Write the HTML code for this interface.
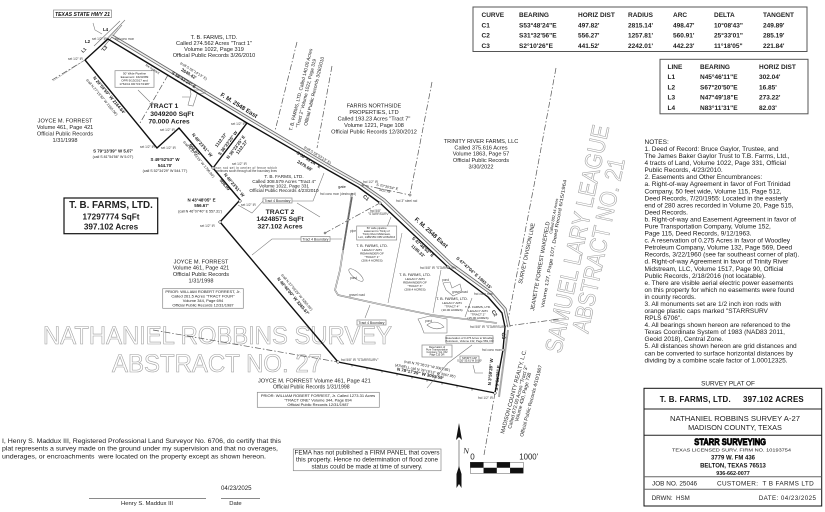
<!DOCTYPE html>
<html><head><meta charset="utf-8"><style>
html,body{margin:0;padding:0;background:#fff;width:825px;height:512px;overflow:hidden}
svg{display:block;filter:blur(.3px)}
text{font-family:"Liberation Sans",sans-serif;fill:#222}
.c{text-anchor:middle}.b{font-weight:bold;fill:#111}
.s6{font-size:5.6px}.s5{font-size:4.7px}.s4{font-size:4px}.s3{font-size:3.2px;fill:#444}
.t{font-size:6.5px;font-weight:bold;fill:#222}
.n{font-size:6.53px;fill:#1a1a1a}
.g{font-family:"Liberation Sans",sans-serif;fill:#fff;stroke:#a0a0a0;stroke-width:.6px}
.d{fill:none;stroke:#555;stroke-width:.7;stroke-dasharray:6 2 1.5 2}
.l{fill:none;stroke:#777;stroke-width:.55}
.box{fill:#fff;stroke:#888;stroke-width:.7}
</style></head><body>
<svg width="825" height="512" viewBox="0 0 825 512" xmlns="http://www.w3.org/2000/svg">
<!-- ghost text -->
<text class="g" x="43" y="344" font-size="25" textLength="349" lengthAdjust="spacingAndGlyphs">NATHANIEL ROBBINS SURVEY</text>
<text class="g" x="112" y="372" font-size="25" textLength="210" lengthAdjust="spacingAndGlyphs">ABSTRACT NO. 27</text>
<text class="g" transform="translate(561,354) rotate(-78)" font-size="24" textLength="232" lengthAdjust="spacingAndGlyphs">SAMUEL LARY LEAGUE</text>
<text class="g" transform="translate(588,334) rotate(-78)" font-size="24" textLength="178" lengthAdjust="spacingAndGlyphs">ABSTRACT NO. 21</text>

<!-- dashed lines -->
<path class="d" d="M297 42L275 131M332 66L317 148M432 82L410 195M556 68L537 170L508 320M507 326L560 319M495 393L484 455M168 75L140 123M153 330L338 362M52 80L85 60M363 185L410 195M325 233L380 203"/>
<!-- highway -->
<path d="M98 48L125 20M101 50L122 25M94 46L120 21" fill="none" stroke="#777" stroke-width=".6"/>
<path d="M53 81L85 60L108 39L118 28" fill="none" stroke="#999" stroke-width=".5"/>

<!-- road -->
<path d="M112 36L250 119L331 167L361 184L384 200L451 264L491 293L505 309L509 327" fill="none" stroke="#666" stroke-width="3.2"/>
<path d="M112 36L250 119L331 167L361 184L384 200L451 264L491 293L505 309L509 327" fill="none" stroke="#eee" stroke-width="1.6"/>
<path d="M508 330L499 397" fill="none" stroke="#aaa" stroke-width="2"/>
<!-- internal fences -->
<path d="M352 193L340 270L335 290L338 295L388 306L432 315L497 323" fill="none" stroke="#777" stroke-width="1.6"/>
<path d="M352 193L340 270L335 290L338 295L388 306L432 315L497 323" fill="none" stroke="#fff" stroke-width=".6"/>
<path d="M352 197L343 250" stroke="#666" stroke-width="1.5"/>
<path class="l" d="M402 233L388 303M441 270L433 313M472 298L465 317"/>
<ellipse cx="356" cy="275" rx="9" ry="3.2" transform="rotate(40 356 275)" fill="#fff" stroke="#666" stroke-width=".5"/>
<path class="l" d="M443 283L450 282L452 288L460 284L462 292L453 296L446 290Z"/>
<path class="l" d="M418 319L430 316L447 319L447 333L424 333L421 325Z M427 325C433 320 440 322 444 327C438 330 432 329 427 325Z"/>
<path class="l" d="M190 90L205 90L205 93L197 94L193 106L188 105L191 94Z M182 97L190 97"/>

<!-- boundary -->
<path d="M85 60L108 39L247 123L328 170L358 187L380 203L448 267L488 297L502 313L505 327L503 350L495 393L338 362L220 222L240 200L213 168L179 128L157 148L85 60" fill="none" stroke="#111" stroke-width="1.4" stroke-linejoin="round"/>
<path d="M247 123L213 168" fill="none" stroke="#111" stroke-width="1.4"/>
<g fill="#fff" stroke="#222" stroke-width=".5">
<circle cx="220" cy="222" r="1.3"/><circle cx="240" cy="201" r="1.3"/><circle cx="213" cy="168" r="1.2"/><circle cx="338" cy="362" r="1.3"/><circle cx="495" cy="393" r="1.3"/><circle cx="503" cy="350" r="1.2"/><circle cx="380" cy="203" r="1.2"/><circle cx="448" cy="267" r="1.2"/><circle cx="363" cy="185" r="1"/><circle cx="410" cy="195" r="1.1"/><circle cx="325" cy="233" r="1"/><circle cx="348" cy="220" r="1.1"/></g>
<path d="M352 365v1.6M367 368v1.6M382 371v1.6M397 374v1.6M412 377v1.6M427 380v1.6M442 383v1.6M457 386v1.6M472 389v1.6" stroke="#333" stroke-width=".6"/>

<!-- leaders -->
<path class="l" d="M93 23L95 30L102 34M138 90L150 102M263 201L252 213L238 205M292 201L313 201L324 173M297 203L320 217M302 239L272 239L252 255M330 239L342 239M365 318L370 305M472 345L448 363L427 388M473 365L475 373L483 373M387 227L391 217"/>

<!-- top-left -->
<rect x="53.5" y="10" width="58" height="7.6" class="box" stroke="#444"/>
<text x="55" y="16" font-size="5" class="b" font-style="italic" textLength="55" lengthAdjust="spacingAndGlyphs">TEXAS STATE HWY 21</text>
<text x="103" y="31" font-size="4.4" class="b">L4</text><text x="85" y="43" font-size="4.4" class="b">L2</text>
<text transform="translate(83,53) rotate(-45)" font-size="4.4" class="b">L1</text><text transform="translate(104,51) rotate(-45)" font-size="4.4" class="b">L3</text>
<g class="s3"><text class="s3" x="92" y="40">set 1/2" IR</text><text class="s3" x="115" y="40">fnd conc mon</text><text class="s3" x="68" y="60">set 1/2" IR</text><text class="s3" x="140" y="148">set 1/2" IR</text><text class="s3" x="160" y="131">set 1/2" IR</text><text class="s3" x="161" y="149">set 1/2" IR</text><text class="s3" x="231" y="125">set 1/2" IR</text><text class="s3" x="200" y="227" >set 1/2" IR</text><text class="s3" x="241" y="206">set 1/2" IR</text><text class="s3" x="232" y="165">set 1/2" IR</text><text class="s3" x="215" y="169" textLength="62">iron rod set in center of fence which</text><text class="s3" x="215" y="172" textLength="62">continues south through all the boundary lines</text><text class="s3" x="363" y="183">fnd 1/2" IR</text><text class="s3" x="320" y="195">fnd conc mon (destroyed)</text><text class="s3" x="396" y="202">fnd 3" steel rod</text><text class="s3" x="370" y="212">fnd 5/8"</text><text class="s3" x="368" y="215">"STARRSURV"</text><text class="s3" x="420" y="269">fnd 5/8" IR "STARRSURV"</text><text class="s3" x="474" y="295">fnd conc mon</text><text class="s3" x="470" y="328">fnd 5/8" IR "STARRSURV"</text><text class="s3" x="482" y="351">fnd conc mon</text><text class="s3" x="478" y="399">fnd 1/2" IR</text><text class="s3" x="341" y="361">fnd 5/8" IR "STARRSURV"</text><text class="s3" x="350" y="232">pipe</text><text class="s3" x="350" y="279">pond</text><text class="s3" x="442" y="281">pond</text><text class="s3" x="425" y="322">pond</text><text class="s3" x="452" y="293">gravel road</text><text class="s3" x="349" y="296">gravel road</text></g>

<g class="c s6">
<text class="s6" x="214" y="39">T. B. FARMS, LTD.</text><text class="s6" x="214" y="45">Called 274.562 Acres  "Tract 1"</text><text class="s6" x="214" y="51">Volume 1022, Page 319</text><text class="s6" x="214" y="57">Official Public Records  3/26/2010</text>
<text class="s6" x="65" y="122.5">JOYCE M. FORREST</text><text class="s6" x="65" y="129">Volume 461, Page 421</text><text class="s6" x="65" y="135.5">Official Public Records</text><text class="s6" x="65" y="142">1/31/1998</text>
<text class="s6" x="374" y="107.5">FARRIS NORTHSIDE</text><text class="s6" x="374" y="114">PROPERTIES, LTD</text><text class="s6" x="374" y="120.5">Called 193.23 Acres  "Tract 7"</text><text class="s6" x="374" y="127">Volume 1221, Page 108</text><text class="s6" x="374" y="133.5">Official Public Records 12/30/2012</text>
<text class="s6" x="481" y="143">TRINITY RIVER FARMS, LLC</text><text class="s6" x="481" y="149.5">Called 375.616 Acres</text><text class="s6" x="481" y="155.5">Volume 1863, Page 57</text><text class="s6" x="481" y="162">Official Public Records</text><text class="s6" x="481" y="168.5">3/30/2022</text>
<text class="s6" x="201" y="263.5">JOYCE M. FORREST</text><text class="s6" x="201" y="269.5">Volume 461, Page 421</text><text class="s6" x="201" y="276">Official Public Records</text><text class="s6" x="201" y="282.5">1/31/1998</text>
</g>
<g text-anchor="middle">
<text class="s5" x="284" y="178">T. B. FARMS, LTD.</text><text class="s5" x="284" y="183">Called 308.579 Acres "Tract 4"</text><text class="s5" x="284" y="187.5">Volume 1022, Page 331</text><text class="s5" x="284" y="192">Official Public Records 4/23/2010</text>
</g>

<!-- tract labels -->
<g class="c b" font-size="6.8">
<text x="164" y="108">TRACT 1</text><text x="172" y="116">3049200 SqFt</text><text x="169" y="123.5">70.000 Acres</text>
<text x="280" y="214">TRACT 2</text><text x="280" y="221">14248575 SqFt</text><text x="280" y="228.5">327.102 Acres</text>
</g>
<rect x="64" y="198" width="93.7" height="35.7" fill="#fff" stroke="#111" stroke-width="1.2"/>
<g class="c b"><text x="111" y="208" font-size="9.8">T. B. FARMS, LTD.</text><text x="111" y="219.5" font-size="8.2">17297774 SqFt</text><text x="111" y="229.5" font-size="8.2">397.102 Acres</text></g>

<!-- pipeline box -->
<rect class="box" x="115" y="70.7" width="39" height="16.6"/>
<g class="c" font-size="3"><text x="134.5" y="74.5">50' Wide Pipeline</text><text x="134.5" y="78">Easement: 1623/289</text><text x="134.5" y="81.5">OPR 9/13/2017 and</text><text x="134.5" y="85">1764/41 DR 5/17/1987</text></g>

<!-- bearing labels -->
<g class="c b" font-size="4.4">
<text transform="translate(183,81) rotate(32)">S 58°53'24" E</text><text transform="translate(188,75) rotate(32)">2640.42'</text>
<text transform="translate(108,96) rotate(50)">N 29°59'59" W  2164.64'</text>
<text x="113" y="152.5">S 79°13'39" W 5.07'</text><text x="165" y="161">S 49°52'53" W</text><text x="165" y="167">544.70'</text>
<text transform="translate(201,146) rotate(50)">N 40°23'51" W</text><text transform="translate(193,151) rotate(50)">908.07'</text>
<text transform="translate(222,141) rotate(-53)">1112.37'</text><text transform="translate(229,144) rotate(-53)">S 36°23'25" W</text><text transform="translate(237,148) rotate(-53)">N 36°23'25" E</text><text transform="translate(243,148) rotate(-53)">1112.27'</text>
<text transform="translate(233,186) rotate(50)">N 40°23'51" W</text><text transform="translate(224,186) rotate(50)">908.09'</text>
<text x="201.5" y="201.5">N 43°48'05" E</text><text x="201.5" y="207">556.67'</text>
<text transform="translate(292,297) rotate(50)">N 40°40'00" W  3265.67'</text>
<text transform="translate(308,161) rotate(32)">S 58°53'24" E</text><text transform="translate(304,167) rotate(32)">2479.68'</text>
<text transform="translate(422,248) rotate(42)">S 47°46'03" E</text><text transform="translate(417,252) rotate(42)">1190.33'</text>
<text transform="translate(473,274) rotate(42)">S 47°47'04" E 1993.15'</text>
<text transform="translate(420,375) rotate(11)">N 78°17'29" W    3065.59'</text>
<text transform="translate(492,372) rotate(-85)">N 3°59'28" W</text><text transform="translate(499,378) rotate(-85)">S 3°59'28" E</text>
</g>
<g class="c" font-size="3.6" fill="#333">
<text transform="translate(193,72) rotate(32)">(call S 56°14'13" E)</text><text transform="translate(101,98) rotate(50)">(call N 27°19'30" W 2165.06')</text>
<text x="113" y="158">(call S 81°54'56" W 5.07')</text><text x="165" y="172">(call S 52°34'29" W 544.77')</text>
<text transform="translate(198,160) rotate(50)">(call N 37°43'15" W 1796.80')</text>
<text x="200" y="212.5">(call N 46°07'40" E 557.31')</text><text transform="translate(296,293) rotate(50)">(call N 37°59'29" W 3265.95')</text>
<text transform="translate(317,156) rotate(32)">(call S 58°53'13" E)</text>
<text transform="translate(425,372) rotate(11)">(ATWELL call N 78°18'13" W 3067.95')</text><text transform="translate(427,367) rotate(11)">(call N 75°35'23" W 3067.85')</text>
<text transform="translate(387,188) rotate(12)">S 70°30'54" E</text><text transform="translate(385,192) rotate(12)">802.78'</text>
</g>
<g class="c b" font-size="6">
<text transform="translate(238,107) rotate(32)">F. M. 2548 East</text><text transform="translate(430,234) rotate(42)">F. M. 2548 East</text>
</g>
<g class="c b" font-size="5">
<text transform="translate(365,199) rotate(42)">C1</text><text transform="translate(493,314) rotate(60)">C2</text><text transform="translate(502,336) rotate(85)">C3</text>
</g>
<text class="s4" x="342" y="188" text-anchor="middle">gate</text>
<text x="152" y="70" font-size="3.2" transform="rotate(32 152 70)" text-anchor="middle" fill="#444">fire hydrant</text>

<!-- boundary tags -->
<rect class="box" x="263" y="198" width="29" height="5"/><text class="c" x="277.5" y="202" font-size="3.4">Tract 4 Boundary</text>
<rect class="box" x="301" y="236.5" width="29" height="5"/><text class="c" x="315.5" y="240.5" font-size="3.4">Tract 4 Boundary</text>
<rect class="box" x="357" y="320" width="29" height="5"/><text class="c" x="371.5" y="324" font-size="3.4">Tract 4 Boundary</text>

<!-- small boxes -->
<rect class="box" x="356.7" y="226" width="40" height="14"/>
<g class="c" font-size="2.7"><text x="376.7" y="229">50' wide pipeline</text><text x="376.7" y="232">easement to Trinity of</text><text x="376.7" y="235">Trinity River Midstream,</text><text x="376.7" y="238">LLC, 1488/159 OPR 2/26/2016</text></g>
<rect class="box" x="446" y="335.7" width="47" height="7.5"/>
<g class="c" font-size="2.8"><text x="469.5" y="339">Reservation of 0.275 Acres to Woodley</text><text x="469.5" y="342">Petroleum, Volume 132, Page 569, DR</text></g>
<rect class="box" x="422" y="345" width="30" height="12"/>
<g class="c" font-size="2.5"><text x="437" y="348">Reservation of</text><text x="437" y="350.5">Pure Transportation</text><text x="437" y="353">Company, Vol. 152</text><text x="437" y="355.5">Page 115 DR</text></g>
<rect class="box" x="460" y="356" width="19" height="6.7"/>
<g class="c" font-size="2.6"><text x="469.5" y="359">SPORT CAP</text><text x="469.5" y="361.5">S. 10' 55.61 W 50.00'</text></g>

<!-- tract-internal labels -->
<g class="c" font-size="3.1" fill="#333">
<text x="372" y="247" font-size="3.8">T. B. FARMS, LTD.</text><text x="372" y="251">LEGACY APN</text><text x="372" y="254.5">REMAINDER OF</text><text x="372" y="258">"TRACT 1"</text><text x="372" y="261.5">(206.4 ACRES)</text>
<text x="415" y="276" font-size="3.8">T. B. FARMS, LTD.</text><text x="415" y="280">LEGACY APN</text><text x="415" y="283.5">REMAINDER OF</text><text x="415" y="287">"TRACT 3"</text><text x="415" y="290.5">(208.4 ACRES)</text>
<text x="452" y="300" font-size="3.8">T. B. FARMS, LTD.</text><text x="452" y="304">LEGACY APN</text><text x="452" y="307.5">"TRACT 4"</text><text x="452" y="311">(10.00 ACRES)</text>
<text x="478" y="308">T. B. FARMS, LTD.</text><text x="478" y="312">LEGACY APN</text><text x="478" y="315.5">"TRACT 2"</text><text x="478" y="319">(15.00 ACRES)</text>
</g>

<!-- rotated owners -->
<g font-size="4.8" fill="#222">
<text transform="translate(292,131) rotate(-76)">T. B. FARMS, LTD.   Called 140.00 Acres</text>
<text transform="translate(299,128) rotate(-76)">"Tract 2"  Volume 1022, Page 319</text>
<text transform="translate(307,126) rotate(-76)">Official Public Records  3/26/2010</text>
</g>
<text transform="translate(522,284) rotate(-78)" font-size="5.6" textLength="62" lengthAdjust="spacingAndGlyphs">SURVEY DIVISION LINE</text>
<text transform="translate(534,311) rotate(-80)" font-size="5.6">JEANETTE FORREST WAKEFIELD</text>
<text transform="translate(552,234) rotate(-80)" font-size="4">Called 802.44 Acres</text>
<text transform="translate(544,308) rotate(-80)" font-size="4.7" textLength="130" lengthAdjust="spacingAndGlyphs">Volume 137, Page 107, Deed Record 6/15/1964</text>
<g font-size="5" fill="#222">
<text transform="translate(504,434) rotate(-75)" font-size="5.6">MADISON COUNTY REALTY, L.C.</text>
<text transform="translate(511,429) rotate(-75)">Called 672.00 Acres  "Tract 3"</text>
<text transform="translate(518,422) rotate(-75)">Volume 430, Page 738</text>
<text transform="translate(523,437) rotate(-75)">Official Public Records  4/10/1967</text>
</g>

<!-- lower prior boxes -->
<rect class="box" x="162.7" y="288.7" width="80.6" height="19.6"/>
<g class="c" font-size="4"><text x="203" y="292.8">PRIOR: WILLIAM ROBERT FORREST, Jr.</text><text x="203" y="297.5">Called 261.5 Acres "TRACT FOUR"</text><text x="203" y="302">Volume 344, Page 694</text><text x="203" y="306.5">Official Public Records  12/31/1987</text></g>
<text x="258" y="382.5" font-size="5.6">JOYCE M. FORREST  Volume 461, Page 421</text>
<text x="273" y="388.5" font-size="5.2">Official Public Records  1/31/1998</text>
<rect class="box" x="257.3" y="392.3" width="122" height="15"/>
<g class="c" font-size="4"><text x="318" y="397.2">PRIOR: WILLIAM ROBERT FORREST, Jr. Called 1273.31 Acres</text><text x="318" y="401.6">"TRACT ONE" Volume 344, Page 694</text><text x="318" y="405.8">Official Public Records  12/31/1987</text></g>

<!-- tables -->
<rect x="473" y="7" width="334" height="44.5" fill="#fff" stroke="#555" stroke-width="1"/>
<g class="t">
<text class="t" x="481.5" y="17">CURVE</text><text class="t" x="519" y="17">BEARING</text><text class="t" x="578" y="17">HORIZ DIST</text><text class="t" x="628" y="17">RADIUS</text><text class="t" x="673" y="17">ARC</text><text class="t" x="714" y="17">DELTA</text><text class="t" x="763" y="17">TANGENT</text>
<text class="t" x="481.5" y="27.3">C1</text><text class="t" x="519" y="27.3">S53°48'24"E</text><text class="t" x="578" y="27.3">497.82'</text><text class="t" x="628" y="27.3">2815.14'</text><text class="t" x="673" y="27.3">498.47'</text><text class="t" x="714" y="27.3">10°08'43"</text><text class="t" x="763" y="27.3">249.89'</text>
<text class="t" x="481.5" y="37.6">C2</text><text class="t" x="519" y="37.6">S31°32'56"E</text><text class="t" x="578" y="37.6">556.27'</text><text class="t" x="628" y="37.6">1257.81'</text><text class="t" x="673" y="37.6">560.91'</text><text class="t" x="714" y="37.6">25°33'01"</text><text class="t" x="763" y="37.6">285.19'</text>
<text class="t" x="481.5" y="47.8">C3</text><text class="t" x="519" y="47.8">S2°10'26"E</text><text class="t" x="578" y="47.8">441.52'</text><text class="t" x="628" y="47.8">2242.01'</text><text class="t" x="673" y="47.8">442.23'</text><text class="t" x="714" y="47.8">11°18'05"</text><text class="t" x="763" y="47.8">221.84'</text>
</g>
<rect x="660" y="59.3" width="148" height="54.5" fill="#fff" stroke="#555" stroke-width="1"/>
<g>
<text class="t" x="667.5" y="69">LINE</text><text class="t" x="700" y="69">BEARING</text><text class="t" x="759" y="69">HORIZ DIST</text>
<text class="t" x="667.5" y="79">L1</text><text class="t" x="700" y="79">N45°46'11"E</text><text class="t" x="759" y="79">302.04'</text>
<text class="t" x="667.5" y="89.3">L2</text><text class="t" x="700" y="89.3">S67°20'50"E</text><text class="t" x="759" y="89.3">16.85'</text>
<text class="t" x="667.5" y="99.5">L3</text><text class="t" x="700" y="99.5">N47°49'18"E</text><text class="t" x="759" y="99.5">273.22'</text>
<text class="t" x="667.5" y="109.8">L4</text><text class="t" x="700" y="109.8">N83°11'31"E</text><text class="t" x="759" y="109.8">82.03'</text>
</g>

<!-- notes -->
<g>
<text class="n" x="644.5" y="144">NOTES:</text>
<text class="n" x="644.5" y="151">1.  Deed of Record:  Bruce Gaylor, Trustee, and</text>
<text class="n" x="644.5" y="158">The James Baker Gaylor Trust to T.B. Farms, Ltd.,</text>
<text class="n" x="644.5" y="165.1">4 tracts of Land, Volume 1022, Page 331, Official</text>
<text class="n" x="644.5" y="172.1">Public Records, 4/23/2010.</text>
<text class="n" x="644.5" y="179.2">2.  Easements and Other Encumbrances:</text>
<text class="n" x="644.5" y="186.2">a.  Right-of-way Agreement in favor of Fort Trinidad</text>
<text class="n" x="644.5" y="193.3">Company, 50 feet wide, Volume 115, Page 512,</text>
<text class="n" x="644.5" y="200.3">Deed Records, 7/20/1955:  Located in the easterly</text>
<text class="n" x="644.5" y="207.4">end of 280 acres recorded in Volume 20, Page 515,</text>
<text class="n" x="644.5" y="214.4">Deed Records.</text>
<text class="n" x="644.5" y="221.4">b.  Right-of-way and Easement Agreement in favor of</text>
<text class="n" x="644.5" y="228.5">Pure Transportation Company, Volume 152,</text>
<text class="n" x="644.5" y="235.5">Page 115, Deed Records, 9/12/1963.</text>
<text class="n" x="644.5" y="242.6">c.  A reservation of 0.275 Acres in favor of Woodley</text>
<text class="n" x="644.5" y="249.6">Petroleum Company, Volume 132, Page 569, Deed</text>
<text class="n" x="644.5" y="256.7">Records, 3/22/1960 (see far southeast corner of plat).</text>
<text class="n" x="644.5" y="263.7">d.  Right-of-way Agreement in favor of Trinity River</text>
<text class="n" x="644.5" y="270.8">Midstream, LLC, Volume 1517, Page 90, Official</text>
<text class="n" x="644.5" y="277.8">Public Records, 2/18/2016 (not locatable).</text>
<text class="n" x="644.5" y="284.8">e.  There are visible aerial electric power easements</text>
<text class="n" x="644.5" y="291.9">on this property for which no easements were found</text>
<text class="n" x="644.5" y="298.9">in county records.</text>
<text class="n" x="644.5" y="306">3.  All monuments set are 1/2 inch iron rods with</text>
<text class="n" x="644.5" y="313">orange plastic caps marked "STARRSURV</text>
<text class="n" x="644.5" y="320.1">RPLS 6706".</text>
<text class="n" x="644.5" y="327.1">4.  All bearings shown hereon are referenced to the</text>
<text class="n" x="644.5" y="334.2">Texas Coordinate System of 1983 (NAD83 2011,</text>
<text class="n" x="644.5" y="341.2">Geoid 2018), Central Zone.</text>
<text class="n" x="644.5" y="348.2">5.  All distances shown hereon are grid distances and</text>
<text class="n" x="644.5" y="355.3">can be converted to surface horizontal distances by</text>
<text class="n" x="644.5" y="362.3">dividing by a combine scale factor of 1.00012325.</text>
</g>

<!-- title block -->
<text class="c" x="728" y="385.5" font-size="6.4">SURVEY PLAT OF</text>
<rect x="644" y="388.3" width="177.7" height="117.7" fill="#fff" stroke="#111" stroke-width="1"/>
<path d="M644 409H821.7M644 435.3H821.7" stroke="#222" stroke-width="1"/>
<path d="M644 476.7H821.7M644 489.3H821.7" stroke="#666" stroke-width="1"/>
<text x="659.7" y="402" class="b" font-size="7.9" textLength="144" xml:space="preserve">T. B. FARMS, LTD.     397.102 ACRES</text>
<text class="c" x="735" y="421" font-size="7.3" textLength="130" lengthAdjust="spacingAndGlyphs">NATHANIEL ROBBINS SURVEY A-27</text>
<text class="c" x="735" y="429.8" font-size="7.3">MADISON COUNTY, TEXAS</text>
<text x="694.3" y="445" font-size="9.5" class="b" stroke="#000" stroke-width=".8" textLength="71.7" lengthAdjust="spacingAndGlyphs">STARR SURVEYING</text>
<text x="672" y="451.5" font-size="4.7" textLength="119" lengthAdjust="spacingAndGlyphs">TEXAS LICENSED SURV. FIRM NO. 10193754</text>
<text class="c b" x="733" y="459.5" font-size="6">3779 W. FM 436</text>
<text class="c b" x="733" y="467.5" font-size="6">BELTON, TEXAS 76513</text>
<text class="c b" x="733" y="475.2" font-size="5.4">936-662-0077</text>
<text x="652" y="485.7" font-size="6.4">JOB NO. 25046</text>
<text x="717" y="485.7" font-size="6.4" textLength="96.7" xml:space="preserve">CUSTOMER:  T B FARMS LTD</text>
<text x="651.7" y="500" font-size="6.2" xml:space="preserve">DRWN:  HSM</text>
<text x="758.7" y="500" font-size="6.2" textLength="57.3">DATE: 04/23/2025</text>

<!-- certificate -->
<text x="2" y="442.8" font-size="6.2" textLength="279" lengthAdjust="spacingAndGlyphs">I, Henry S. Maddux III, Registered Professional Land Surveyor No. 6706, do certify that this</text>
<text x="2" y="450.6" font-size="6.2" textLength="276" lengthAdjust="spacingAndGlyphs">plat represents a survey made on the ground under my supervision and that no overages,</text>
<text x="2" y="458.4" font-size="6.2" textLength="264" lengthAdjust="spacingAndGlyphs" xml:space="preserve">underages, or encroachments  were located on the property except as shown hereon.</text>
<text x="221" y="489.8" font-size="6.1">04/23/2025</text>
<path d="M89 498.7H206M221 498.7H260" stroke="#444" stroke-width=".7"/>
<text class="c" x="147" y="505.2" font-size="5.9">Henry S. Maddux III</text>
<text class="c" x="235.5" y="505.2" font-size="5.9">Date</text>

<!-- FEMA -->
<rect class="box" x="293.3" y="449" width="147.7" height="21.7"/>
<g class="c" font-size="6.1"><text x="367" y="454.5" textLength="145" lengthAdjust="spacingAndGlyphs">FEMA has not published a FIRM PANEL that covers</text><text x="367" y="461.5" textLength="142" lengthAdjust="spacingAndGlyphs">this property. Hence no determination of flood zone</text><text x="367" y="468.5" textLength="111" lengthAdjust="spacingAndGlyphs">status could be made at time of survery.</text></g>

<!-- north arrow -->
<path d="M459 440V468" stroke="#444" stroke-width=".6"/>
<path d="M459 423L456 440L459 437L462 440Z" fill="#111"/>
<path d="M459 466L456.5 474V488L459 484L461.5 488V474Z" fill="#111"/>
<text transform="translate(463,453) rotate(8)" font-size="8" style="font-family:'Liberation Serif',serif">N</text>

<!-- scale -->
<rect x="470.3" y="462.3" width="53" height="11" fill="#fff" stroke="#333" stroke-width=".4"/>
<path d="M470.3 462.3h13.25v5.5h-13.25zM496.8 462.3h13.25v5.5h-13.25zM483.55 467.8h13.25v5.5h-13.25zM510.05 467.8h13.25v5.5h-13.25z" fill="#111"/>
<text class="c" x="472.5" y="459.5" font-size="8">0</text>
<text x="519.3" y="459.5" font-size="7.8">1000'</text>
</svg>
</body></html>
